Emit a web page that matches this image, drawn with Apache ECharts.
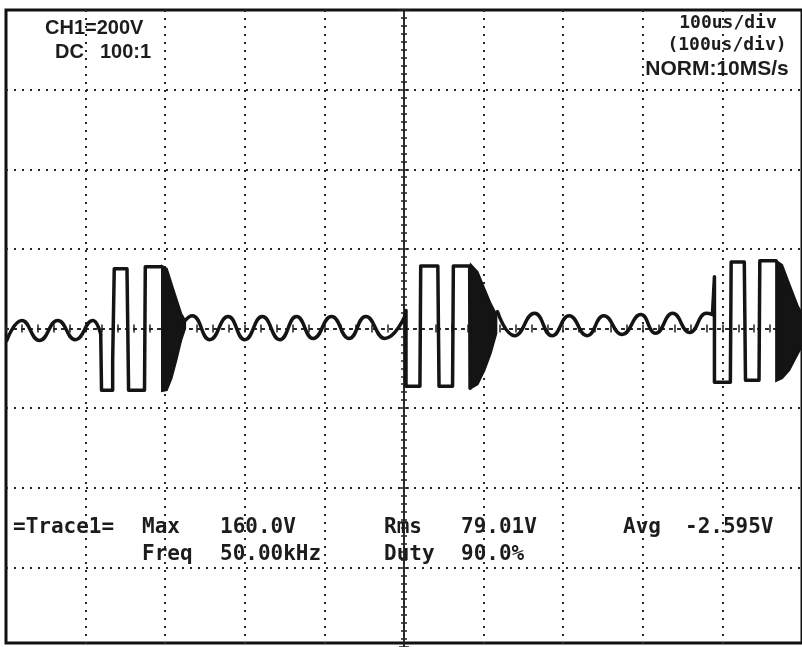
<!DOCTYPE html>
<html><head><meta charset="utf-8">
<script src="https://cdn.jsdelivr.net/npm/echarts@6/dist/echarts.min.js"></script>
<style>html,body{margin:0;padding:0;background:#fff}#c{width:802px;height:647px}</style>
</head><body><div id="c"></div>
<script>
// time in microseconds (100 us/div), voltage in volts (200 V/div)
const ring1Time = [-499, -480, -458, -435, -413, -391, -381];
const ring1Volt = [-30, 20, -30, 20, -28, 20, -15];
const pulse1Time = [-381, -380, -366, -366, -364, -364, -348, -346, -326, -325, -304];
const pulse1Volt = [-15, -155, -155, -80, -80, 150, 150, -155, -155, 155, 155];
const burst1Time = [-304, -298, -292, -286, -280, -275];
const burst1Top = [157, 150, 112, 75, 38, 20];
const burst1Bottom = [-157, -155, -125, -80, -30, 0];
const ring2Time = [-275, -266, -244, -221, -200, -178, -156, -135, -114, -91, -69, -48, -24, 1];
const ring2Volt = [20, 32, -28, 30, -28, 30, -28, 30, -25, 30, -25, 30, -25, 30];
const pulse2Time = [1, 2.5, 2.5, 20, 21, 42.5, 44, 61, 62, 82.5, 83];
const pulse2Volt = [30, 45, -145, -145, 157, 157, -145, -145, 157, 157, -150];
const burst2Time = [84, 92.5, 101, 109, 116];
const burst2Top = [160, 142, 100, 62, 35];
const burst2Bottom = [-150, -140, -105, -62, -12];
const ring3Time = [117.5, 139, 164, 186, 207.5, 230, 251, 274, 297.5, 316, 337.5, 359, 380, 387.5];
const ring3Volt = [42, -18, 38, -18, 32, -18, 32, -15, 35, -12, 38, -10, 38, 35];
const pulse3Time = [387.5, 390, 390, 410, 411, 427.5, 429, 446, 447, 467.5];
const pulse3Volt = [35, 130, -135, -135, 167, 167, -130, -130, 170, 170];
const burst3Time = [467.5, 475, 484, 495, 500];
const burst3Top = [170, 160, 112, 55, 38];
const burst3Bottom = [-132, -125, -105, -62, -45];

const headerLeft = ['CH1=200V', 'DC', '100:1'];
const headerRight = ['100us/div', '(100us/div)', 'NORM:10MS/s'];
const measureRow1 = ['=Trace1=', 'Max', '160.0V', 'Rms', '79.01V', 'Avg', '-2.595V'];
const measureRow2 = ['Freq', '50.00kHz', 'Duty', '90.0%'];

const INK = '#141414';
const zip = (ts, vs) => ts.map((t, i) => [t, vs[i]]);

function traceSeries(ts, vs, smooth) {
  return {
    type: 'line', xAxisIndex: 0, yAxisIndex: 0, data: zip(ts, vs),
    smooth: smooth ? 0.5 : false, symbol: 'none', silent: true,
    lineStyle: { color: INK, width: 3.5, cap: 'round', join: 'round' }
  };
}
function burstSeries(ts, tops, bottoms) {
  return {
    type: 'custom', xAxisIndex: 0, yAxisIndex: 0, silent: true, clip: true,
    data: ts.map((t, i) => [t, tops[i], bottoms[i]]),
    encode: { x: 0, y: [1, 2] },
    renderItem: function (params, api) {
      if (params.dataIndex !== 0) return null;
      const pts = [];
      for (let i = 0; i < ts.length; i++) pts.push(api.coord([ts[i], tops[i]]));
      for (let i = ts.length - 1; i >= 0; i--) pts.push(api.coord([ts[i], bottoms[i]]));
      return { type: 'polygon', shape: { points: pts }, style: { fill: INK, stroke: INK, lineWidth: 2 } };
    }
  };
}

const dotted = { color: '#262626', width: 2, type: [2, 6] };
function xAx(pos, split) {
  return {
    type: 'value', gridIndex: 0, min: -500, max: 500, interval: 100, position: pos,
    axisLine: { show: true, onZero: true, onZeroAxisIndex: 0, lineStyle: dotted },
    axisTick: { show: true, length: 4, lineStyle: { color: '#222', width: 1.5 } },
    minorTick: { show: true, splitNumber: 5, length: 4, lineStyle: { color: '#222', width: 1.5 } },
    axisLabel: { show: false },
    splitLine: { show: split, showMinLine: false, showMaxLine: false, lineStyle: dotted }
  };
}
function yAx(pos, split) {
  return {
    type: 'value', gridIndex: 0, min: -800, max: 800, interval: 200, position: pos,
    axisLine: { show: true, onZero: true, onZeroAxisIndex: 0, lineStyle: { color: '#222', width: 1.5 } },
    axisTick: { show: true, length: 5, lineStyle: { color: '#222', width: 1.5 } },
    minorTick: { show: true, splitNumber: 10, length: 3, lineStyle: { color: '#222', width: 1.5 } },
    axisLabel: { show: false },
    splitLine: { show: split, showMinLine: false, showMaxLine: false, lineStyle: dotted }
  };
}

const textFill = '#1c1c1c';
const sansB = 'bold 20px "Liberation Sans"';
const monoB = 'bold 21px "DejaVu Sans Mono"';
const monoS = 'bold 18px "DejaVu Sans Mono"';
function txt(s, x, y, font, align) {
  return { type: 'text', x: x, y: y, z: 100,
    style: { text: s, font: font, fill: textFill, align: align || 'left', verticalAlign: 'middle' } };
}
const row1X = [13, 142, 220, 384, 461, 623, 685];
const row2X = [142, 220, 384, 461];

const option = {
  animation: false,
  backgroundColor: '#ffffff',
  grid: [
    { left: 6, top: 10, width: 800, height: 640, show: false },
    { left: 6, top: 10, width: 800, height: 633, show: true, borderColor: '#111', borderWidth: 3, backgroundColor: 'transparent' }
  ],
  xAxis: [xAx('bottom', true), xAx('top', false),
    { type: 'value', gridIndex: 1, show: false, min: 0, max: 1 }],
  yAxis: [yAx('left', true), yAx('right', false),
    { type: 'value', gridIndex: 1, show: false, min: 0, max: 1 }],
  series: [
    traceSeries(ring1Time, ring1Volt, true),
    traceSeries(pulse1Time, pulse1Volt, false),
    burstSeries(burst1Time, burst1Top, burst1Bottom),
    traceSeries(ring2Time, ring2Volt, true),
    traceSeries(pulse2Time, pulse2Volt, false),
    burstSeries(burst2Time, burst2Top, burst2Bottom),
    traceSeries(ring3Time, ring3Volt, true),
    traceSeries(pulse3Time, pulse3Volt, false),
    burstSeries(burst3Time, burst3Top, burst3Bottom)
  ],
  graphic: [
    txt(headerLeft[0], 45, 28, sansB),
    txt(headerLeft[1], 55, 52, sansB),
    txt(headerLeft[2], 100, 52, sansB),
    txt(headerRight[0], 728, 23, monoS, 'center'),
    txt(headerRight[1], 727, 45, monoS, 'center'),
    txt(headerRight[2], 717, 69, 'bold 21px "Liberation Sans"', 'center')
  ].concat(measureRow1.map((s, i) => txt(s, row1X[i], 528, monoB)))
   .concat(measureRow2.map((s, i) => txt(s, row2X[i], 555, monoB)))
};

const chart = echarts.init(document.getElementById('c'), null, { renderer: 'canvas' });
chart.setOption(option);
</script>
</body></html>
